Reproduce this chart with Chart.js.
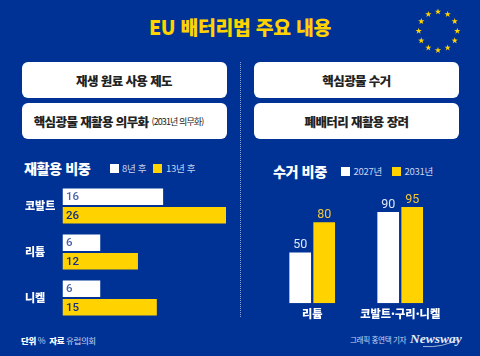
<!DOCTYPE html>
<html lang="ko">
<head>
<meta charset="utf-8">
<script src="https://cdn.jsdelivr.net/npm/chart.js@4"></script>
<style>
  html, body { margin: 0; padding: 0; }
  body { width: 480px; height: 356px; overflow: hidden; background: #003296; position: relative;
    font-family: "Noto Sans CJK KR", sans-serif; color: #fff; }
  .abs { position: absolute; white-space: nowrap; line-height: 1; }
  .c { transform: translate(-50%, -50%); }
  .l { transform: translateY(-50%); }
  .title { left: 240px; top: 27px; font-size: 19.4px; font-weight: 900; color: #ffd200; letter-spacing: -0.3px; }
  .box { position: absolute; background: #fff; border-radius: 6px; height: 36px; width: 205px;
    color: #222; font-weight: 900; font-size: 12.5px; letter-spacing: -0.6px; box-sizing: border-box;
    display: flex; align-items: center; justify-content: center; white-space: nowrap; }
  .box small { font-size: 9px; font-weight: 400; letter-spacing: -0.9px; margin-left: 3px; }
  .divider { position: absolute; left: 240px; top: 62px; height: 255px; border-left: 1px dotted #8fa3d6; }
  .head { font-size: 14.2px; font-weight: 900; letter-spacing: -0.5px; }
  .sw { position: absolute; width: 9px; height: 9px; }
  .leg { font-size: 9.5px; color: #c9d4ee; letter-spacing: -0.3px; }
  .foot { font-size: 8.5px; color: #c9d4ee; letter-spacing: -0.4px; }
  .foot b { color: #fff; font-weight: 900; }
  .credit { font-size: 7.6px; }
  .news { font-family: "Liberation Serif", serif; font-style: italic; font-weight: 700; font-size: 13.5px; color: #e6ecf8; }
  canvas { position: absolute; }
</style>
</head>
<body>
<div class="abs c title">EU 배터리법 주요 내용</div>
<svg id="stars" width="60" height="60" style="position:absolute;left:408px;top:1px"></svg>

<div class="box" style="left:21.5px;top:62px">재생 원료 사용 제도</div>
<div class="box" style="left:21.5px;top:103px;padding-right:11px">핵심광물 재활용 의무화<small>(2031년 의무화)</small></div>
<div class="box" style="left:254px;top:62px">핵심광물 수거</div>
<div class="box" style="left:254px;top:103px">폐배터리 재활용 장려</div>
<div class="divider"></div>

<div class="abs l head" style="left:24px;top:168px">재활용 비중</div>
<div class="sw" style="left:110px;top:164px;background:#fff"></div>
<div class="abs l leg" id="leg1a" style="left:122px;top:169px"></div>
<div class="sw" style="left:153px;top:164px;background:#ffd200"></div>
<div class="abs l leg" id="leg1b" style="left:166px;top:169px"></div>

<div class="abs l head" style="left:273px;top:171px">수거 비중</div>
<div class="sw" style="left:340.5px;top:167px;background:#fff"></div>
<div class="abs l leg" id="leg2a" style="left:353.5px;top:172px"></div>
<div class="sw" style="left:392px;top:167px;background:#ffd200"></div>
<div class="abs l leg" id="leg2b" style="left:404.5px;top:172px"></div>

<canvas id="recycleChart" style="left:0;top:182.5px"></canvas>
<canvas id="collectChart" style="left:240px;top:180px"></canvas>

<div class="abs l foot" style="left:21px;top:340px"><b>단위</b> %&nbsp;&nbsp;<b>자료</b> 유럽의회</div>
<div class="abs l foot credit" style="left:350px;top:340px">그래픽 홍연택 기자</div>
<div class="abs l news" style="left:410px;top:339px">Newsway</div>
<svg width="50" height="12" style="position:absolute;left:415px;top:338px">
  <path d="M8 8.5 Q28 10 43 1" fill="none" stroke="#c9d4ee" stroke-width="0.8"/>
</svg>

<script>
const recycleCategories = ['코발트', '리튬', '니켈'];
const recycleSeriesNames = ['8년 후', '13년 후'];
const recycle8 = [16, 6, 6];
const recycle13 = [26, 12, 15];

const collectCategories = ['리튬', '코발트·구리·니켈'];
const collectSeriesNames = ['2027년', '2031년'];
const collect2027 = [50, 90];
const collect2031 = [80, 95];

const WHITE = '#ffffff';
const YELLOW = '#ffd200';
const FONT = '"Noto Sans CJK KR", sans-serif';

document.getElementById('leg1a').textContent = recycleSeriesNames[0];
document.getElementById('leg1b').textContent = recycleSeriesNames[1];
document.getElementById('leg2a').textContent = collectSeriesNames[0];
document.getElementById('leg2b').textContent = collectSeriesNames[1];

// eu stars
const svg = document.getElementById('stars');
for (let i = 0; i < 12; i++) {
  const a = i * Math.PI / 6;
  const cx = 30 + 19.3 * Math.cos(a);
  const cy = 30 + 19.3 * Math.sin(a);
  let pts = '';
  for (let k = 0; k < 10; k++) {
    const r = k % 2 === 0 ? 3.3 : 1.3;
    const t = -Math.PI / 2 + k * Math.PI / 5;
    pts += (cx + r * Math.cos(t)).toFixed(2) + ',' + (cy + r * Math.sin(t)).toFixed(2) + ' ';
  }
  const star = document.createElementNS('http://www.w3.org/2000/svg', 'polygon');
  star.setAttribute('points', pts);
  star.setAttribute('fill', YELLOW);
  svg.appendChild(star);
}

// value labels for both charts
const valueLabels = {
  id: 'valueLabels',
  afterDatasetsDraw(chart, args, opts) {
    const { ctx } = chart;
    ctx.save();
    ctx.font = opts.font;
    chart.data.datasets.forEach((ds, i) => {
      chart.getDatasetMeta(i).data.forEach((bar, j) => {
        ctx.fillStyle = opts.colors[i];
        if (opts.inside) {
          ctx.textAlign = 'left';
          ctx.textBaseline = 'middle';
          ctx.fillText(ds.data[j], bar.base + 3.5, bar.y + 0.5);
        } else {
          ctx.textAlign = 'center';
          ctx.textBaseline = 'bottom';
          ctx.fillText(ds.data[j], bar.x, bar.y - 1);
        }
      });
    });
    ctx.restore();
  },
};

function sizeCanvas(id, w, h) {
  const el = document.getElementById(id);
  el.width = w;
  el.height = h;
  return el;
}

new Chart(sizeCanvas('recycleChart', 240, 138), {
  type: 'bar',
  plugins: [valueLabels],
  data: {
    labels: recycleCategories,
    datasets: [
      { label: recycleSeriesNames[0], data: recycle8, backgroundColor: WHITE },
      { label: recycleSeriesNames[1], data: recycle13, backgroundColor: YELLOW },
    ],
  },
  options: {
    indexAxis: 'y',
    responsive: false,
    animation: false,
    categoryPercentage: 0.804,
    barPercentage: 0.89,
    layout: { padding: { left: 25, right: 14, top: 0, bottom: 0 } },
    plugins: {
      legend: { display: false },
      title: { display: false },
      tooltip: { enabled: false },
      valueLabels: { inside: true, font: '500 11.5px Roboto, sans-serif', colors: ['#4a62ad', '#14307f'] },
    },
    scales: {
      x: { display: false, min: 0, max: 26 },
      y: {
        // no room for half a label above and below, bars use the full height
        afterFit(scale) {
          scale.width = 37.5;
          scale.paddingTop = 0;
          scale.paddingBottom = 0;
        },
        grid: { display: false },
        border: { display: false },
        ticks: {
          color: WHITE,
          crossAlign: 'far',
          padding: 0,
          font: { family: FONT, size: 11, weight: '900' },
        },
      },
    },
  },
});

new Chart(sizeCanvas('collectChart', 240, 150), {
  type: 'bar',
  plugins: [valueLabels],
  data: {
    labels: collectCategories,
    datasets: [
      { label: collectSeriesNames[0], data: collect2027, backgroundColor: WHITE },
      { label: collectSeriesNames[1], data: collect2031, backgroundColor: YELLOW },
    ],
  },
  options: {
    responsive: false,
    animation: false,
    categoryPercentage: 0.545,
    barPercentage: 0.904,
    layout: { padding: { left: 28.2, right: 35.8, top: 21.9, bottom: 0 } },
    plugins: {
      legend: { display: false },
      title: { display: false },
      tooltip: { enabled: false },
      valueLabels: { inside: false, font: '400 12.5px Roboto, sans-serif', colors: ['#dfe6f5', '#f3c83a'] },
    },
    scales: {
      y: { display: false, min: 0, max: 100 },
      x: {
        afterFit(scale) { scale.height = 26.7; },
        grid: { display: false },
        border: { display: false },
        ticks: {
          color: WHITE,
          padding: -4.5,
          maxRotation: 0,
          font: { family: FONT, size: 11.2, weight: '900' },
        },
      },
    },
  },
});
</script>
</body>
</html>
